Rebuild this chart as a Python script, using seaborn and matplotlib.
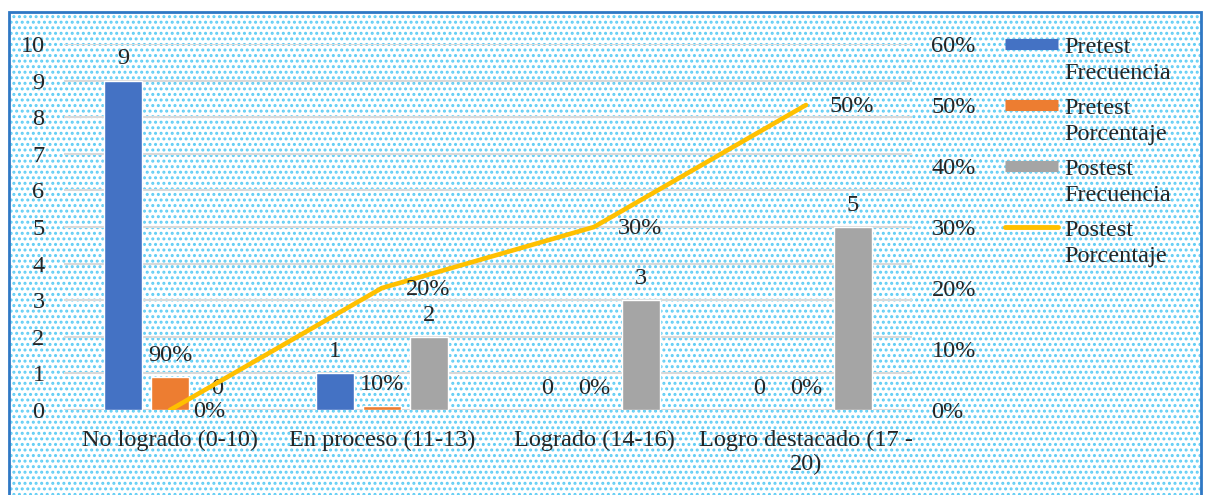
import matplotlib.pyplot as plt
import seaborn as sns
import pandas as pd
import numpy as np
from matplotlib.patches import Rectangle
from matplotlib.lines import Line2D
from matplotlib.legend_handler import HandlerLine2D

categorias = ['No logrado (0-10)', 'En proceso (11-13)', 'Logrado (14-16)', 'Logro destacado (17 -\n20)']
pre_frec = [9, 1, 0, 0]
pre_pct = [0.9, 0.1, 0.0, 0.0]
post_frec = [0, 2, 3, 5]
post_pct = [0.0, 0.2, 0.3, 0.5]
series = ['Pretest Frecuencia', 'Pretest Porcentaje', 'Postest Frecuencia', 'Postest Porcentaje']
colores = ['#4472C4', '#ED7D31', '#A5A5A5', '#FFC000']

sns.set_theme(style='white')
plt.rcParams['font.family'] = ['Liberation Serif', 'DejaVu Serif']
plt.rcParams['hatch.linewidth'] = 1.4
fs = 17.5
interlinea = 1.35


class HandlerArriba(HandlerLine2D):
    # alinea el simbolo con la primera linea del texto
    def create_artists(self, legend, orig_handle, xdescent, ydescent, width, height, fontsize, trans):
        artistas = super().create_artists(legend, orig_handle, xdescent, ydescent, width, height, fontsize, trans)
        for a in artistas:
            if isinstance(a, Line2D):
                a.set_ydata(np.asarray(a.get_ydata()) + 0.5 * interlinea * fontsize)
        return artistas


df = pd.DataFrame({
    'Categoria': categorias * 3,
    'Serie': [series[0]] * 4 + [series[1]] * 4 + [series[2]] * 4,
    'Valor': pre_frec + pre_pct + post_frec,
})

W, H = 1206, 495
fig = plt.figure(figsize=(W / 100, H / 100), dpi=100)
# fondo punteado y borde
fig.patches.append(Rectangle((9 / W, 0), (1201 - 9) / W, (H - 12) / H, transform=fig.transFigure,
                             facecolor='white', edgecolor='#5fcdf5', hatch='...', linewidth=0, zorder=-10))
fig.patches.append(Rectangle((9 / W, -0.02), (1201 - 9) / W, (H - 12) / H + 0.02, transform=fig.transFigure,
                             fill=False, edgecolor='#2f78c4', linewidth=2, zorder=-9))

ax = fig.add_axes([64 / W, 85 / H, 848 / W, 366 / H])
ax.set_facecolor('none')
sns.barplot(data=df, x='Categoria', y='Valor', hue='Serie', palette=colores[:3], width=0.665, gap=0.21,
            errorbar=None, saturation=1, legend=False, ax=ax)

ax.bar_label(ax.containers[0], labels=[str(v) for v in pre_frec], padding=8, fontsize=fs)
ax.bar_label(ax.containers[1], labels=[f'{v:.0%}' for v in pre_pct], padding=8, fontsize=fs)
ax.bar_label(ax.containers[2], labels=[str(v) for v in post_frec], padding=8, fontsize=fs)

ax.set_ylim(0, 10)
ax.set_yticks(range(0, 11))
ax.grid(axis='y', color='#d9d9d9', linewidth=1.5)
ax.set_axisbelow(True)
for s in ax.spines.values():
    s.set_visible(False)
ax.tick_params(axis='y', length=0, pad=14, labelsize=fs)
ax.tick_params(axis='x', length=0, pad=14, labelsize=fs)
ax.set_xlabel('')
ax.set_ylabel('')

ax2 = ax.twinx()
sns.lineplot(x=np.arange(len(categorias)), y=post_pct, color=colores[3], linewidth=3.3, ax=ax2)
for i, v in enumerate(post_pct):
    ax2.annotate(f'{v:.0%}', (i, v), xytext=(17, -1), textcoords='offset points',
                 va='center', ha='left', fontsize=fs)
ax2.set_ylim(0, 0.6)
ax2.set_yticks(np.arange(0, 0.61, 0.1))
ax2.set_yticklabels([f'{t:.0%}' for t in np.arange(0, 0.61, 0.1)])
ax2.tick_params(axis='y', length=0, pad=14, labelsize=fs)
for s in ax2.spines.values():
    s.set_visible(False)
ax2.set_ylabel('')
ax.set_xlim(-0.5, len(categorias) - 0.5)

handles = [Line2D([], [], color=colores[0], linewidth=8, solid_capstyle='butt'),
           Line2D([], [], color=colores[1], linewidth=8, solid_capstyle='butt'),
           Line2D([], [], color=colores[2], linewidth=8, solid_capstyle='butt'),
           Line2D([], [], color=colores[3], linewidth=3.5, solid_capstyle='round')]
etiquetas = ['Pretest\nFrecuencia', 'Pretest\nPorcentaje', 'Postest\nFrecuencia', 'Postest\nPorcentaje']
leg = fig.legend(handles, etiquetas, loc='upper left', bbox_to_anchor=(995 / W, 1 - 27 / H), frameon=False,
                 fontsize=fs, handlelength=2.2, handletextpad=0.25, labelspacing=0.55, borderaxespad=0,
                 handler_map={Line2D: HandlerArriba()})
for t in leg.get_texts():
    t.set_linespacing(interlinea)

fig.savefig('out.png', dpi=100)
